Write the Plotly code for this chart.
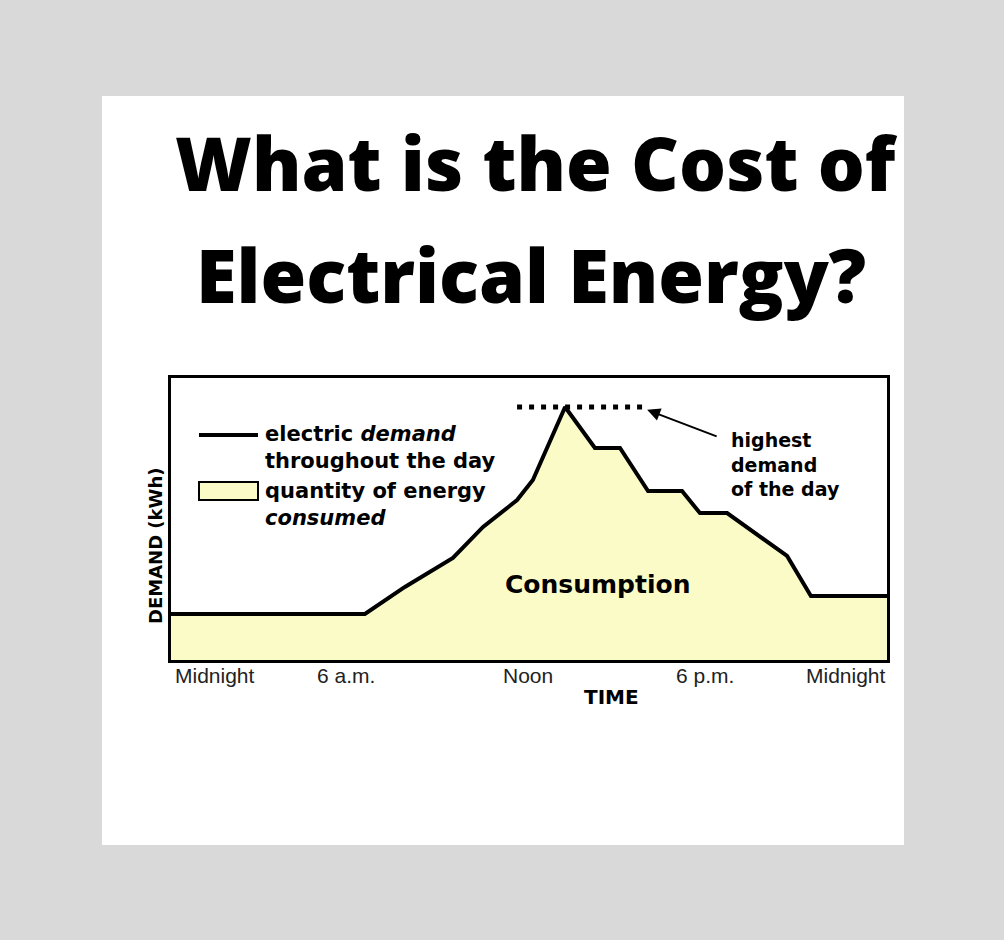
import plotly.graph_objects as go

# ---- data (hours after midnight, relative demand) ----
hours = [0, 6.5, 7.84, 9.45, 10.46, 11.6, 12.13, 13.21, 14.21, 15.05, 15.99, 17.13, 17.73, 18.64, 20.65, 21.45, 24]
demand = [16.3, 16.3, 25.9, 36.2, 47.2, 56.7, 63.8, 89.7, 75.2, 75.2, 59.9, 59.9, 52.1, 52.1, 36.9, 22.7, 22.7]
tick_vals = [0, 5.85, 11.95, 17.9, 24]
tick_text = ["Midnight", "6 a.m.", "Noon", "6 p.m.", "Midnight"]
peak_marker_x = [11.6, 15.8]
arrow_head = (15.96, 88.7)
arrow_tail = (18.34, 79.1)

W, H = 1004, 940
L, R, T, B = 171, 117, 378, 280
PW, PH = W - L - R, H - T - B


def px(x):
    return (x - L) / PW


def py(y):
    return (H - B - y) / PH


FILL = "#fbfbc8"
BOLD = "DejaVu Sans"

fig = go.Figure()
fig.add_trace(go.Scatter(
    x=hours, y=demand, mode="lines", fill="tozeroy", fillcolor=FILL,
    line=dict(color="black", width=4), hoverinfo="skip", showlegend=False))

peak = max(demand)
fig.add_trace(go.Scatter(
    x=peak_marker_x, y=[peak, peak], mode="lines",
    line=dict(color="black", width=5, dash="5px,7px"), hoverinfo="skip", showlegend=False))

shapes = [
    # white card
    dict(type="rect", xref="paper", yref="paper", x0=px(102), x1=px(904), y0=py(845), y1=py(96),
         fillcolor="white", line=dict(width=0), layer="below"),
    # legend line
    dict(type="line", xref="paper", yref="paper", x0=px(199), x1=px(258), y0=py(435), y1=py(435),
         line=dict(color="black", width=4)),
    # legend box
    dict(type="rect", xref="paper", yref="paper", x0=px(199), x1=px(258), y0=py(500), y1=py(482),
         fillcolor=FILL, line=dict(color="black", width=2)),
]

ann = []
ann.append(dict(text="What is the Cost of", x=px(536), y=py(162), xref="paper", yref="paper",
                showarrow=False, xanchor="center", yanchor="middle",
                font=dict(family="Open Sans", size=74, color="black", weight=800)))
ann.append(dict(text="Electrical Energy?", x=px(531), y=py(274), xref="paper", yref="paper",
                showarrow=False, xanchor="center", yanchor="middle",
                font=dict(family="Open Sans", size=74, color="black", weight=800)))
# legend texts
ann.append(dict(text="electric <i>demand</i><br>throughout the day", x=px(263), y=py(420),
                xref="paper", yref="paper", showarrow=False, xanchor="left", yanchor="top", align="left",
                font=dict(family=BOLD, size=21, color="black", weight="bold")))
ann.append(dict(text="quantity of energy<br><i>consumed</i>", x=px(263), y=py(477),
                xref="paper", yref="paper", showarrow=False, xanchor="left", yanchor="top", align="left",
                font=dict(family=BOLD, size=21, color="black", weight="bold")))
ann.append(dict(text="highest<br>demand<br>of the day", x=px(729), y=py(427),
                xref="paper", yref="paper", showarrow=False, xanchor="left", yanchor="top", align="left",
                font=dict(family=BOLD, size=19, color="black", weight="bold")))
ann.append(dict(text="Consumption", x=px(597), y=py(584), xref="paper", yref="paper",
                showarrow=False, xanchor="center", yanchor="middle",
                font=dict(family=BOLD, size=25, color="black", weight="bold")))
ann.append(dict(text="TIME", x=px(611), y=py(697), xref="paper", yref="paper",
                showarrow=False, xanchor="center", yanchor="middle",
                font=dict(family=BOLD, size=20, color="black", weight="bold")))
ann.append(dict(text="DEMAND (kWh)", x=px(155), y=py(546), xref="paper", yref="paper",
                showarrow=False, xanchor="center", yanchor="middle", textangle=-90,
                font=dict(family=BOLD, size=18, color="black", weight="bold")))
anchors = ["left"] + ["center"] * (len(tick_vals) - 2) + ["right"]
for v, t, anc in zip(tick_vals, tick_text, anchors):
    ann.append(dict(text=t, x=v, y=py(675), xref="x", yref="paper", showarrow=False,
                    xanchor=anc, yanchor="middle", xshift=2 if anc == "left" else (1 if anc == "right" else 0),
                    font=dict(family="Liberation Sans", size=21, color="#222")))
# arrow
ann.append(dict(text="", x=arrow_head[0], y=arrow_head[1], ax=arrow_tail[0], ay=arrow_tail[1],
                xref="x", yref="y", axref="x", ayref="y", showarrow=True,
                arrowhead=2, arrowsize=1.3, arrowwidth=2, arrowcolor="black"))

fig.update_layout(
    width=W, height=H, autosize=False,
    margin=dict(l=L, r=R, t=T, b=B, pad=0),
    paper_bgcolor="#d9d9d9", plot_bgcolor="white",
    shapes=shapes, annotations=ann, showlegend=False,
    xaxis=dict(range=[0, 24], showticklabels=False, showgrid=False, zeroline=False,
               showline=True, mirror=True, linecolor="black", linewidth=2.5, ticks="", fixedrange=True),
    yaxis=dict(range=[0, 100], showticklabels=False, showgrid=False, zeroline=False,
               showline=True, mirror=True, linecolor="black", linewidth=2.5, ticks="", fixedrange=True),
)

fig.write_html("out.html", config={"displayModeBar": False},
               post_script="document.body.style.margin='0';document.body.style.padding='0';"
                           "document.body.style.background='#d9d9d9';document.body.style.overflow='hidden';")
